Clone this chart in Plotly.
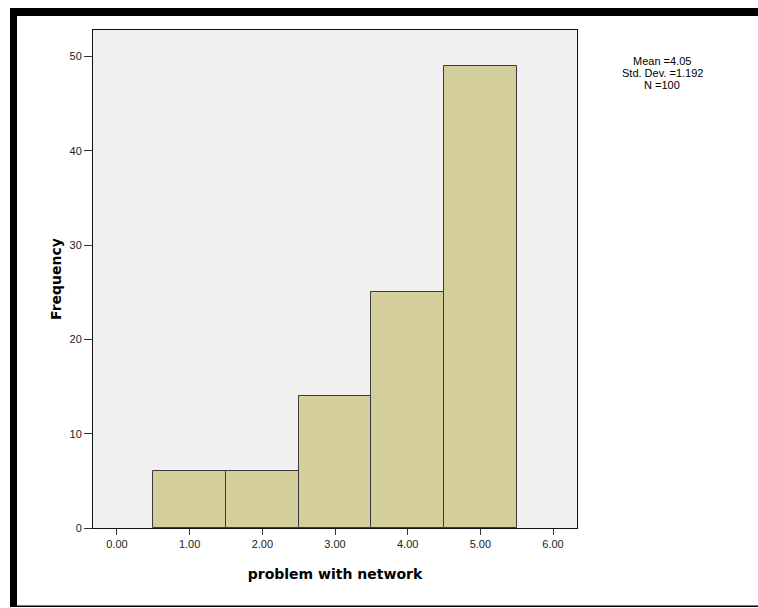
import plotly.graph_objects as go

# Data
categories = [1, 2, 3, 4, 5]
frequencies = [6, 6, 14, 25, 49]
x_tick_vals = [0, 1, 2, 3, 4, 5, 6]
x_tick_labels = ["0.00", "1.00", "2.00", "3.00", "4.00", "5.00", "6.00"]
y_tick_vals = [0, 10, 20, 30, 40, 50]
stats_lines = ["Mean =4.05", "Std. Dev. =1.192", "N =100"]

W, H = 758, 608
ML, MR, MT, MB = 93, 181, 30, 80
PW, PH = W - ML - MR, H - MT - MB


def px_x(px):
    return (px - ML) / PW


def px_y(py):
    return (H - MB - py) / PH


fig = go.Figure()
fig.add_trace(go.Bar(
    x=categories,
    y=frequencies,
    width=1,
    marker=dict(color="#D3CE9A", line=dict(color="#3a3a3a", width=1)),
    hoverinfo="x+y",
))

tick_font = dict(family="Liberation Sans, Arial, sans-serif", size=11, color="#222222")
title_font = dict(family="DejaVu Sans, Verdana, sans-serif", size=14, color="#000000")

fig.update_layout(
    width=W, height=H,
    margin=dict(l=ML, r=MR, t=MT, b=MB, pad=0),
    paper_bgcolor="white",
    plot_bgcolor="#F0F0F0",
    showlegend=False,
    bargap=0,
    xaxis=dict(
        range=[-0.33, 6.33],
        tickvals=x_tick_vals, ticktext=x_tick_labels,
        ticks="outside", ticklen=6, tickwidth=1, tickcolor="#333333",
        showgrid=False, zeroline=False,
        showline=True, linecolor="#111111", linewidth=1, mirror=True,
        tickfont=tick_font,
        title=dict(text="<b>problem with network</b>", font=title_font, standoff=19),
    ),
    yaxis=dict(
        range=[0, 52.8],
        tickvals=y_tick_vals,
        ticks="outside", ticklen=8, tickwidth=1, tickcolor="#333333",
        showgrid=False, zeroline=False,
        showline=True, linecolor="#111111", linewidth=1, mirror=True,
        tickfont=tick_font,
        title=dict(text="<b>Frequency</b>", font=title_font, standoff=4),
    ),
)

# Stats annotations
for i, line in enumerate(stats_lines):
    fig.add_annotation(
        x=px_x(662), y=px_y(61 + 12 * i), xref="paper", yref="paper",
        text=line, showarrow=False, xanchor="center", yanchor="middle",
        font=dict(family="Liberation Sans, Arial, sans-serif", size=11, color="#000000"),
    )

# Outer black frame (top thick, left thick, bottom thin)
frame = [
    (10, 8, 758, 16),
    (10, 8, 17, 607),
    (17, 605.5, 758, 607),
]
for x0, y0, x1, y1 in frame:
    fig.add_shape(
        type="rect", xref="paper", yref="paper",
        x0=px_x(x0), x1=px_x(x1), y0=px_y(y1), y1=px_y(y0),
        fillcolor="black", line=dict(width=0), layer="above",
    )

fig.write_html(
    "out.html",
    config={"displayModeBar": False},
    post_script="document.body.style.margin='0';document.body.style.overflow='hidden';",
)
